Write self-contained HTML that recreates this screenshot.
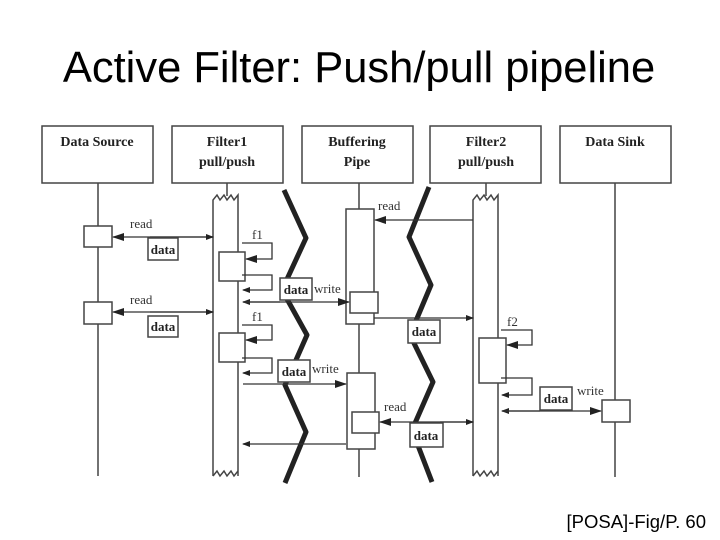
<!DOCTYPE html><html><head><style>body{margin:0;background:#fff}</style></head><body>
<svg width="720" height="540" xmlns="http://www.w3.org/2000/svg" style="display:block">
<defs>
<marker id="b" markerWidth="12" markerHeight="8" refX="11" refY="4" orient="auto" markerUnits="userSpaceOnUse"><path d="M0,0L12,4L0,8z" fill="#222"/></marker>
<marker id="s" markerWidth="8" markerHeight="6" refX="7" refY="3" orient="auto" markerUnits="userSpaceOnUse"><path d="M0,0L8,3L0,6z" fill="#222"/></marker>
</defs>
<text x="359" y="82" font-family="Liberation Sans,sans-serif" font-size="43.5" text-anchor="middle" fill="#000">Active Filter: Push/pull pipeline</text>
<text x="706" y="528" font-family="Liberation Sans,sans-serif" font-size="18.5" text-anchor="end" fill="#000">[POSA]-Fig/P. 60</text>
<g fill="none" stroke="#444" stroke-width="1.5">
<rect x="42" y="126" width="111" height="57"/><rect x="172" y="126" width="111" height="57"/><rect x="302" y="126" width="111" height="57"/><rect x="430" y="126" width="111" height="57"/><rect x="560" y="126" width="111" height="57"/>
<line x1="98" y1="183" x2="98" y2="476"/><line x1="359" y1="183" x2="359" y2="477"/><line x1="615" y1="183" x2="615" y2="477"/>
<line x1="227" y1="183" x2="227" y2="196"/><line x1="486" y1="183" x2="486" y2="196"/>
<path d="M213,476V200l4,-5l3,5l4,-5l3,5l4,-5l3,5l4,-5V476"/><path d="M213,476l4,-5l3,5l4,-5l3,5l4,-5l3,5l4,-5"/>
<path d="M473,476V200l4,-5l3,5l4,-5l3,5l4,-5l3,5l4,-5V476"/><path d="M473,476l4,-5l3,5l4,-5l3,5l4,-5l3,5l4,-5"/>
</g>
<g fill="#fff" stroke="#444" stroke-width="1.5">
<rect x="346" y="209" width="28" height="115"/><rect x="347" y="373" width="28" height="76"/>
<rect x="84" y="226" width="28" height="21"/><rect x="84" y="302" width="28" height="22"/>
<rect x="219" y="252" width="26" height="29"/><rect x="219" y="333" width="26" height="29"/>
<rect x="479" y="338" width="27" height="45"/><rect x="602" y="400" width="28" height="22"/>
<rect x="350" y="292" width="28" height="21"/><rect x="352" y="412" width="27" height="21"/>
</g>
<g stroke="#222" stroke-width="5" fill="none" stroke-linejoin="round">
<polyline points="284,190 306,238 282,290 307,335 285,385 306,432 285,483"/>
<polyline points="429,187 409,237 431,285 410,335 433,382 412,430 432,482"/>
</g>
<g stroke="#333" stroke-width="1.3" fill="none">
<line x1="213" y1="237" x2="113" y2="237" marker-end="url(#b)"/><line x1="150" y1="237" x2="213" y2="237" marker-end="url(#s)"/>
<line x1="213" y1="312" x2="113" y2="312" marker-end="url(#b)"/><line x1="150" y1="312" x2="213" y2="312" marker-end="url(#s)"/>
<path d="M242,243H272V259H246" marker-end="url(#b)"/><path d="M242,275H272V290H243" marker-end="url(#s)"/>
<path d="M242,325H272V340H246" marker-end="url(#b)"/><path d="M242,358H272V373H243" marker-end="url(#s)"/>
<line x1="280" y1="302" x2="243" y2="302" marker-end="url(#s)"/><line x1="243" y1="302" x2="349" y2="302" marker-end="url(#b)"/>
<line x1="243" y1="384" x2="346" y2="384" marker-end="url(#b)"/>
<line x1="473" y1="220" x2="375" y2="220" marker-end="url(#b)"/>
<line x1="374" y1="318" x2="473" y2="318" marker-end="url(#s)"/>
<path d="M501,330H532V345H507" marker-end="url(#b)"/><path d="M501,378H532V395H502" marker-end="url(#s)"/>
<line x1="540" y1="411" x2="502" y2="411" marker-end="url(#s)"/><line x1="502" y1="411" x2="601" y2="411" marker-end="url(#b)"/>
<line x1="473" y1="422" x2="380" y2="422" marker-end="url(#b)"/><line x1="440" y1="422" x2="473" y2="422" marker-end="url(#s)"/>
<line x1="346" y1="444" x2="243" y2="444" marker-end="url(#s)"/>
</g>
<g fill="#fff" stroke="#444" stroke-width="1.5">
<rect x="148" y="238" width="30" height="22"/><rect x="148" y="316" width="30" height="21"/>
<rect x="280" y="278" width="32" height="22"/><rect x="278" y="360" width="32" height="22"/>
<rect x="408" y="320" width="32" height="23"/><rect x="540" y="387" width="32" height="23"/><rect x="410" y="423" width="33" height="24"/>
</g>
<g font-family="Liberation Serif,serif" font-size="14" font-weight="bold" fill="#222" text-anchor="middle">
<text x="97" y="146">Data Source</text>
<text x="227" y="146">Filter1</text><text x="227" y="166">pull/push</text>
<text x="357" y="146">Buffering</text><text x="357" y="166">Pipe</text>
<text x="486" y="146">Filter2</text><text x="486" y="166">pull/push</text>
<text x="615" y="146">Data Sink</text>
</g>
<g font-family="Liberation Serif,serif" font-size="13" font-weight="bold" fill="#222" text-anchor="middle">
<text x="163" y="254">data</text><text x="163" y="331">data</text>
<text x="296" y="294">data</text><text x="294" y="376">data</text>
<text x="424" y="336">data</text><text x="556" y="403">data</text><text x="426" y="440">data</text>
</g>
<g font-family="Liberation Serif,serif" font-size="13" fill="#333">
<text x="130" y="228">read</text><text x="130" y="304">read</text>
<text x="252" y="239">f1</text><text x="252" y="321">f1</text>
<text x="314" y="293">write</text><text x="312" y="373">write</text>
<text x="378" y="210">read</text><text x="384" y="411">read</text>
<text x="507" y="326">f2</text><text x="577" y="395">write</text>
</g>
</svg></body></html>
